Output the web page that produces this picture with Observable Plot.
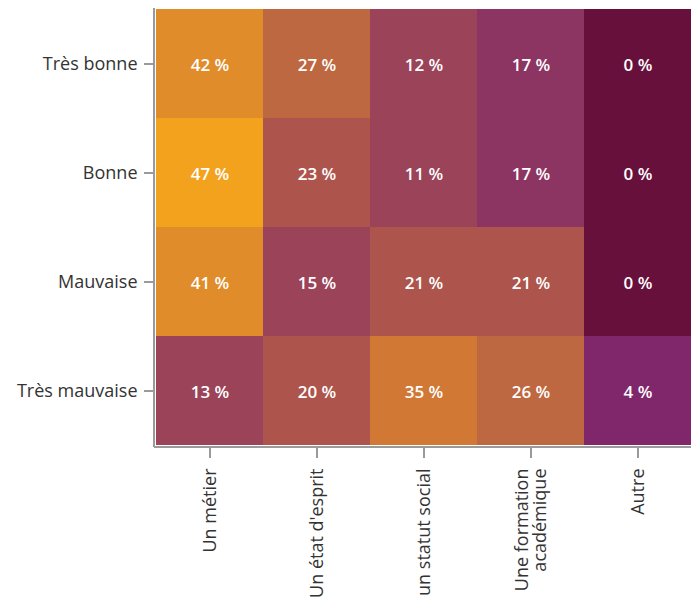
<!DOCTYPE html>
<html>
<head>
<meta charset="utf-8">
<script src="https://cdn.jsdelivr.net/npm/d3@7"></script>
<script src="https://cdn.jsdelivr.net/npm/@observablehq/plot@0.6"></script>
<style>
  html, body { margin: 0; padding: 0; background: #fff; overflow: hidden; }
  #chart { font-family: "Open Sans", sans-serif; }
</style>
</head>
<body>
<div id="chart"></div>
<script>
const rows = ["Très bonne", "Bonne", "Mauvaise", "Très mauvaise"];
const cols = ["Un métier", "Un état d'esprit", "un statut social", "Une formation\nacadémique", "Autre"];
const tresBonne = [42, 27, 12, 17, 0];
const bonne = [47, 23, 11, 17, 0];
const mauvaise = [41, 15, 21, 21, 0];
const tresMauvaise = [13, 20, 35, 26, 4];
const colorThresholds = [2, 8, 16, 19, 25, 30, 38, 45];
const colorRange = ["#68103c", "#80276c", "#9b4459", "#8d3562", "#ad554c", "#bd6840", "#d17834", "#e08c2a", "#f3a21d"];

const series = [tresBonne, bonne, mauvaise, tresMauvaise];
const data = [];
rows.forEach((r, i) => cols.forEach((c, j) => data.push({row: r, col: c, v: series[i][j]})));

const chart = Plot.plot({
  width: 691,
  height: 604,
  marginLeft: 155,
  marginRight: 0,
  marginTop: 8,
  marginBottom: 158,
  style: {fontFamily: "Open Sans, sans-serif", background: "#fff"},
  x: {type: "band", domain: cols, padding: 0, label: null},
  y: {type: "band", domain: rows, padding: 0, label: null},
  color: {type: "threshold", domain: colorThresholds, range: colorRange},
  marks: [
    Plot.cell(data, {x: "col", y: "row", fill: d => d.v}),
    Plot.text(data, {x: "col", y: "row", text: d => d.v + " %", fill: "white", fontSize: 17, fontWeight: 600, dy: 2}),
    Plot.axisY({label: null, tickSize: 11, tickPadding: 7, stroke: "#9a9a9a", strokeWidth: 2, fill: "#333", fontSize: 18}),
    Plot.axisX({label: null, tickSize: 12, tickPadding: 10, tickRotate: -90, stroke: "#9a9a9a", strokeWidth: 2, fill: "#333", fontSize: 18})
  ]
});

// axis lines along the left and bottom of the plot area, from the library's scales
const xs = chart.scale("x"), ys = chart.scale("y");
const [x0, x1] = xs.range, [y0, y1] = ys.range;
const svg = d3.select(chart);
svg.append("line").attr("x1", x0 - 1).attr("x2", x0 - 1).attr("y1", y0).attr("y2", y1 + 1)
  .attr("stroke", "#9a9a9a").attr("stroke-width", 2);
svg.append("line").attr("x1", x0 - 1).attr("x2", x1).attr("y1", y1 + 1).attr("y2", y1 + 1)
  .attr("stroke", "#9a9a9a").attr("stroke-width", 2);

document.getElementById("chart").append(chart);
</script>
</body>
</html>
